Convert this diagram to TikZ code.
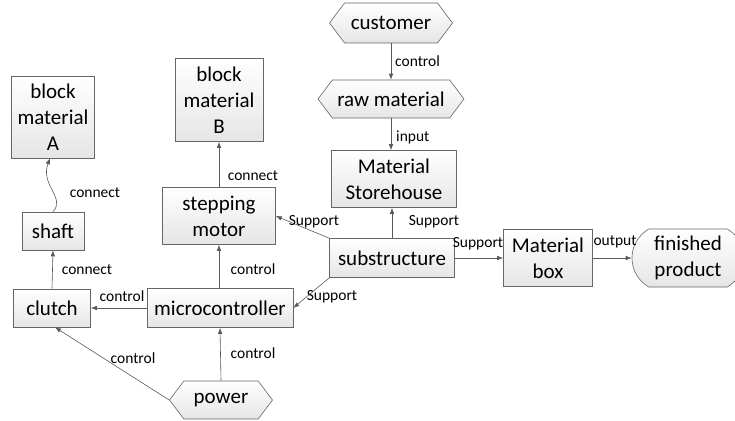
\documentclass[tikz,border=0pt]{standalone}
\usepackage{fontspec}
\setmainfont{Carlito}
\usetikzlibrary{arrows.meta,shapes.symbols,shapes.misc}

\tikzset{
  blk/.style={draw=black!60, line width=0.6pt, top color=white, bottom color=black!10,
    inner sep=0pt, align=center, font=\fontsize{21}{26}\selectfont},
  hexa/.style={blk, signal, signal to=west and east, signal pointer angle=106},
  lbl/.style={inner sep=0pt, font=\fontsize{15.5}{18}\selectfont},
  arr/.style={draw=black!65, line width=0.6pt, -{Latex[length=6pt,width=4.5pt]}}
}

\begin{document}
\begin{tikzpicture}[x=1pt,y=1pt,yscale=-1,xscale=1]
\useasboundingbox (0,0) rectangle (735,420);

%Shapes
\node[blk, minimum width=83pt, minimum height=82pt] (blockA) at (53,117) {block\\material\\A};
\node[blk, minimum width=62pt, minimum height=38pt] (shaft) at (53,231) {shaft};
\node[blk, minimum width=77pt, minimum height=38pt] (clutch) at (52,308) {clutch};
\node[blk, minimum width=88pt, minimum height=83pt] (blockB) at (219,100) {block\\material\\B};
\node[blk, minimum width=113pt, minimum height=57pt] (stepper) at (219,216) {stepping\\motor};
\node[blk, minimum width=146pt, minimum height=39pt] (micro) at (220,308) {microcontroller};
\node[hexa, minimum width=123pt, minimum height=40pt] (customer) at (391,23) {customer};
\node[hexa, minimum width=146pt, minimum height=38pt] (raw) at (391,99) {raw material};
\node[blk, minimum width=125pt, minimum height=57pt] (store) at (394,179) {Material\\Storehouse};
\node[blk, minimum width=125pt, minimum height=39pt] (sub) at (392,258) {substructure};
\node[blk, minimum width=89pt, minimum height=57pt] (matbox) at (548,258) {Material\\box};
\node[blk, rounded rectangle, rounded rectangle arc length=120, minimum width=112pt, minimum height=58pt] (product) at (688,258) {finished\\product};
\node[hexa, minimum width=103pt, minimum height=38pt] (power) at (221,400) {power};

%Connectors
\draw[arr] (customer.south) -- (raw.north);
\draw[arr] (raw.south) -- (raw.south |- store.north);
\draw[arr] (sub.north) -- (sub.north |- store.south);
\draw[arr] (sub.north west) -- (stepper.east);
\draw[arr] (sub.south west) -- (micro.east);
\draw[arr] (sub.east) -- (matbox.west);
\draw[arr] (matbox.east) -- (product.west);
\draw[arr] (stepper.south |- micro.north) -- (stepper.south);
\draw[arr] (stepper.north) -- (blockB.south);
\draw[arr] (micro.west) -- (clutch.east);
\draw[arr] (clutch.north) -- (shaft.south);
\draw[arr] (shaft.north) .. controls (66,198) and (40,185) .. ([xshift=-3pt]blockA.south);
\draw[arr] (power.north) -- (micro.south);
\draw[arr] (power.west) -- ([xshift=3pt]clutch.south);

% Text Node
\node[lbl, anchor=west] (l1) at (395,61) {control};
\node[lbl, anchor=west] (l2) at (396,137) {input};
\node[lbl] (l3) at (434,222) {Support};
\node[lbl] (l4) at (314,222) {Support};
\node[lbl] (l5) at (332,297) {Support};
\node[lbl] (l6) at (478,244) {Support};
\node[lbl] (l7) at (615,242) {output};
\node[lbl] (l8) at (253,176) {connect};
\node[lbl] (l9) at (253,269) {control};
\node[lbl] (l10) at (122,296) {control};
\node[lbl] (l11) at (87,270) {connect};
\node[lbl] (l12) at (95,193) {connect};
\node[lbl] (l13) at (253,353) {control};
\node[lbl] (l14) at (133,358) {control};
\end{tikzpicture}
\end{document}
